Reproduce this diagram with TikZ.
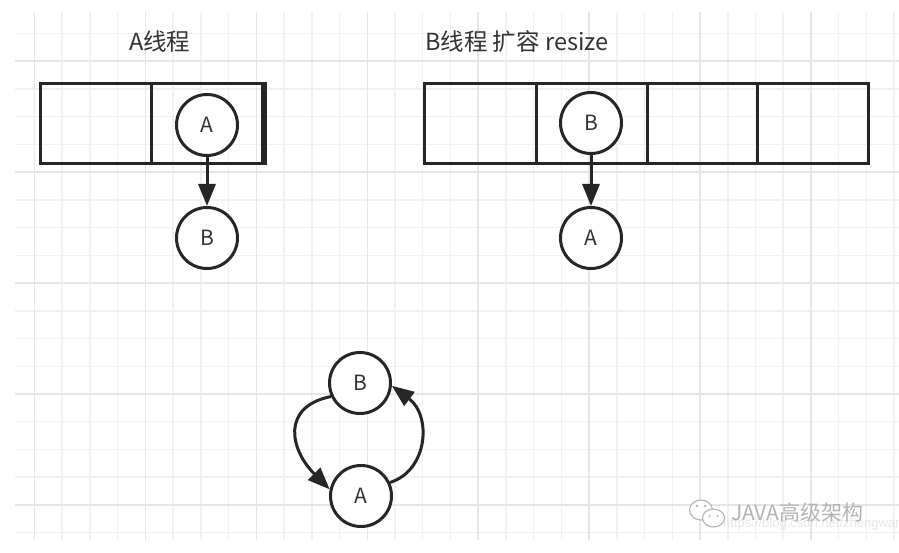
\documentclass[tikz,border=0pt]{standalone}
\usepackage{fontspec}
\setmainfont{Noto Sans CJK SC}
\newfontfamily\urlfont{Liberation Sans}
\usetikzlibrary{arrows.meta}
\definecolor{ink}{HTML}{262626}
\definecolor{txt}{HTML}{333333}
\definecolor{gminor}{HTML}{F1F1F1}
\definecolor{gmajor}{HTML}{E6E6E6}
\definecolor{wm}{HTML}{B4B4B4}
\definecolor{wmurl}{HTML}{E6E6E6}
\begin{document}
\begin{tikzpicture}[x=1pt,y=-1pt,
  cellbox/.style={draw=ink,line width=3pt,minimum height=80pt,inner sep=0pt},
  ball/.style={circle,draw=ink,line width=3pt,fill=white,minimum size=61pt,inner sep=0pt,text=txt,font=\fontsize{21}{21}\selectfont},
  link/.style={draw=ink,line width=3pt,-{Triangle[length=22pt,width=17pt]}},
  title/.style={text=txt,font=\fontsize{23.5}{23.5}\selectfont,inner sep=0pt,anchor=west},
  gridminor/.style={gminor,line width=1.5pt},
  gridmajor/.style={gmajor,line width=1.5pt}]
\useasboundingbox (0,0) rectangle (899,553);
\fill[white] (0,0) rectangle (899,553);
% grid
\foreach \k in {0,...,31} \draw[gridminor] ({34.5+27.73*\k},12) -- ({34.5+27.73*\k},540);
\foreach \k in {0,...,18} \draw[gridminor] (15,{33.5+27.73*\k}) -- (899,{33.5+27.73*\k});
\foreach \k in {0,4,...,28} \draw[gridmajor] ({34.5+27.73*\k},12) -- ({34.5+27.73*\k},540);
\foreach \k in {1,5,...,17} \draw[gridmajor] (15,{33.5+27.73*\k}) -- (899,{33.5+27.73*\k});
% titles
\node[title] (t1) at (129,42) {A线程};
\node[title] (t2) at (425,42) {B线程 扩容 resize};
% left array
\node[cellbox,minimum width=111pt] (a1) at (95.5,124) {};
\node[cellbox,minimum width=111pt] (a2) at (206.5,124) {};
\draw[ink,line width=3pt] ([xshift=2pt]a2.north east) -- ([xshift=2pt]a2.south east);
% right array
\node[cellbox,minimum width=112pt] (b1) at (480,124) {};
\node[cellbox,minimum width=111pt] (b2) at (591.5,124) {};
\node[cellbox,minimum width=110pt] (b3) at (702,124) {};
\node[cellbox,minimum width=111pt] (b4) at (812.5,124) {};
% nodes
\node[ball] (nA1) at (207,125) {A};
\node[ball] (nB1) at (207,238) {B};
\node[ball] (nB2) at (591,123) {B};
\node[ball] (nA2) at (591,238) {A};
\node[ball] (nB3) at (360,383) {B};
\node[ball] (nA3) at (361,496) {A};
% links
\draw[link] (nA1) -- (nB1);
\draw[link] (nB2) -- (nA2);
\draw[link] (nB3.205) .. controls +(-50,10) and +(-40,-40) .. (nA3.168);
\draw[link] (nA3.25) .. controls +(38,-12) and +(40,30) .. (nB3.-5);
% watermark
\begin{scope}
\clip (0,0) rectangle (899,553);
\node[text=wmurl,font=\fontsize{13}{13}\selectfont\urlfont,anchor=west,inner sep=0pt] (url) at (723,524) {https://blog.csdn.net/zhengwangzw};
\end{scope}
\draw[wm,line width=1.1pt,fill=white] (701,510) ellipse [x radius=11.5pt,y radius=10pt];
\fill[wm] (697,506) circle (1.3pt) (705,506) circle (1.3pt);
\draw[wm,line width=1.1pt,fill=white] (713.5,518) ellipse [x radius=11pt,y radius=9pt];
\fill[wm] (709.5,516) circle (1.2pt) (717.5,516) circle (1.2pt);
\node[text=wm,font=\fontsize{21}{21}\selectfont,anchor=west,inner sep=0pt] (wmt) at (731,513) {JAVA高级架构};
\end{tikzpicture}
\end{document}
